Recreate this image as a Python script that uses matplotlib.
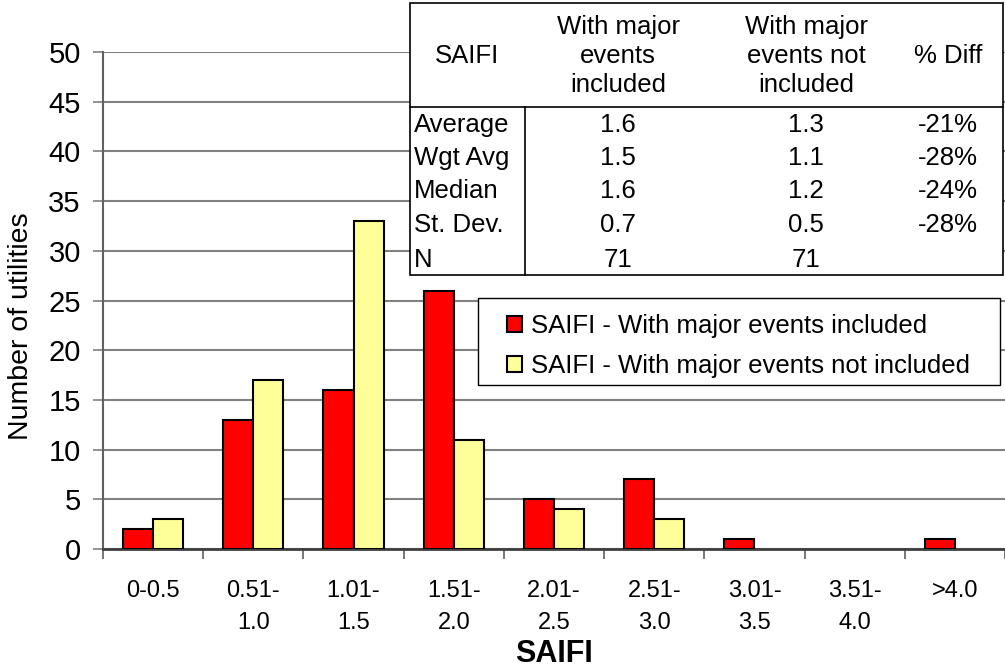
import matplotlib
matplotlib.use('Agg')
import matplotlib.pyplot as plt
from matplotlib.lines import Line2D
from matplotlib.patches import Rectangle
import numpy as np

plt.rcParams['font.family'] = ['Liberation Sans', 'DejaVu Sans']

# data
categories = ['0-0.5', '0.51-\n1.0', '1.01-\n1.5', '1.51-\n2.0', '2.01-\n2.5',
              '2.51-\n3.0', '3.01-\n3.5', '3.51-\n4.0', '>4.0']
with_major = [2, 13, 16, 26, 5, 7, 1, 0, 1]
without_major = [3, 17, 33, 11, 4, 3, 0, 0, 0]
series_names = ['SAIFI - With major events included',
                'SAIFI - With major events not included']

# summary table
tbl_header = ['SAIFI', 'With major\nevents\nincluded', 'With major\nevents not\nincluded', '% Diff']
tbl_rows = ['Average', 'Wgt Avg', 'Median', 'St. Dev.', 'N']
tbl_incl = ['1.6', '1.5', '1.6', '0.7', '71']
tbl_excl = ['1.3', '1.1', '1.2', '0.5', '71']
tbl_diff = ['-21%', '-28%', '-24%', '-28%', '']

W, H = 1005, 670
fig = plt.figure(figsize=(W / 100, H / 100), dpi=100)

def fx(x):
    return x / W

def fy(y):
    return 1 - y / H

ax = fig.add_axes([fx(103), fy(549), fx(1005) - fx(103), fy(52) - fy(549)])

x = np.arange(len(categories))
bw = 0.3
b1 = ax.bar(x - bw / 2, with_major, bw, color='#FF0000', edgecolor='black', linewidth=1.5, zorder=3)
b2 = ax.bar(x + bw / 2, without_major, bw, color='#FFFF99', edgecolor='black', linewidth=1.5, zorder=3)
# empty bins show no bar at all
for p in list(b1) + list(b2):
    if p.get_height() == 0:
        p.set_visible(False)

ax.set_xlim(-0.5, 8.43)
ax.set_ylim(0, 50)
ax.set_yticks(np.arange(0, 51, 5))
ax.yaxis.grid(True, color='#808080', linewidth=1.5, zorder=0)
ax.set_axisbelow(True)
ax.tick_params(axis='y', labelsize=21, length=7, width=1.2, color='#808080', pad=9)

ax.set_xticks(x)
ax.set_xticklabels(categories, fontsize=17, va='top', linespacing=1.6)
ax.set_xticks(np.arange(-0.5, 9, 1), minor=True)
ax.tick_params(axis='x', which='major', length=0, pad=22)
ax.tick_params(axis='x', which='minor', length=7, width=1.2, color='#606060')

for s in ['top', 'right']:
    ax.spines[s].set_visible(False)
ax.spines['left'].set_color('#606060')
ax.spines['left'].set_linewidth(1.5)
ax.spines['bottom'].set_color('#404040')
ax.spines['bottom'].set_linewidth(2)

ax.set_ylabel('Number of utilities', fontsize=20.5)
ax.yaxis.set_label_coords(-0.077, 0.449)
ax.set_xlabel('SAIFI', fontsize=22, fontweight='bold', labelpad=4)

# legend: own box, entries placed inside it
fig.patches.append(Rectangle((fx(478), fy(385)), fx(1000) - fx(478), fy(298) - fy(385),
                             transform=fig.transFigure, facecolor='white',
                             edgecolor='black', linewidth=1, zorder=4))
leg = fig.legend(series_names, loc='upper left', bbox_to_anchor=(fx(507), fy(314)),
                 bbox_transform=fig.transFigure, fontsize=18.5, frameon=False,
                 handlelength=0.6, handleheight=0.6, handletextpad=0.35,
                 borderpad=0, labelspacing=0.62, borderaxespad=0)
leg.set_zorder(5)

# table
fig.patches.append(Rectangle((fx(410), fy(275)), fx(1003) - fx(410), fy(3) - fy(275),
                             transform=fig.transFigure, facecolor='white',
                             edgecolor='black', linewidth=1.2, zorder=5))
fig.lines.append(Line2D([fx(410), fx(1003)], [fy(107), fy(107)], transform=fig.transFigure,
                        color='black', linewidth=1.2, zorder=6))
fig.lines.append(Line2D([fx(525), fx(525)], [fy(107), fy(275)], transform=fig.transFigure,
                        color='black', linewidth=1.2, zorder=6))

col_x = [467, 618, 806, 948]
for cx, h in zip(col_x, tbl_header):
    fig.text(fx(cx), fy(56), h, ha='center', va='center', fontsize=18.5,
             linespacing=1.28, zorder=7)
row_y = [125, 158, 191, 225, 260]
for ry, lab, a, b, d in zip(row_y, tbl_rows, tbl_incl, tbl_excl, tbl_diff):
    fig.text(fx(414), fy(ry), lab, ha='left', va='center', fontsize=18.5, zorder=7)
    fig.text(fx(col_x[1]), fy(ry), a, ha='center', va='center', fontsize=18.5, zorder=7)
    fig.text(fx(col_x[2]), fy(ry), b, ha='center', va='center', fontsize=18.5, zorder=7)
    fig.text(fx(col_x[3]), fy(ry), d, ha='center', va='center', fontsize=18.5, zorder=7)

fig.savefig('out.png', dpi=100)
